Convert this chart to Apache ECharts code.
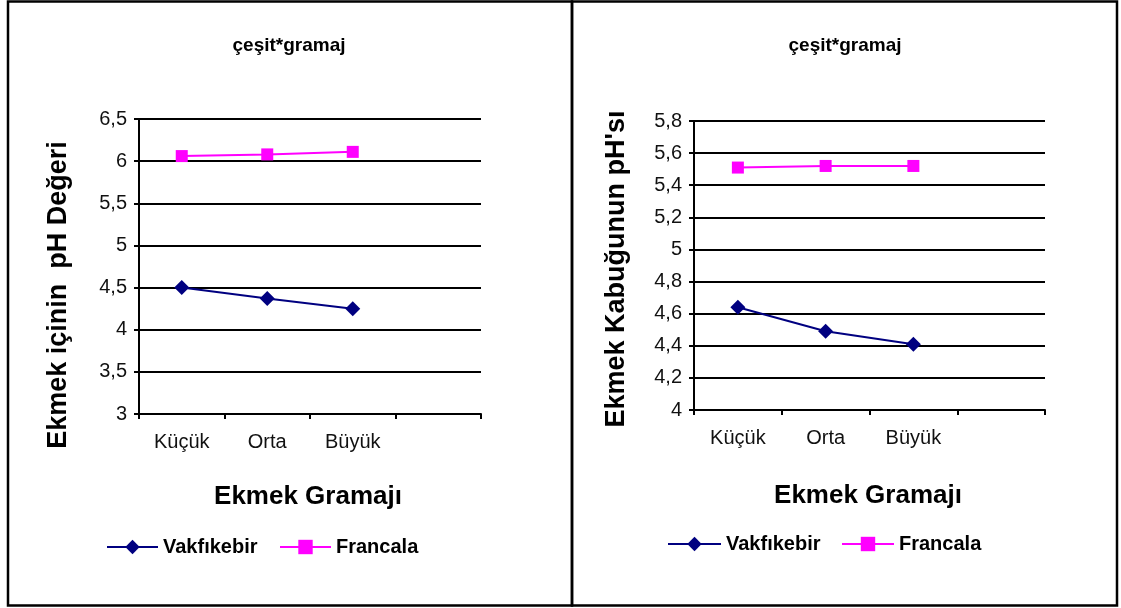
<!DOCTYPE html>
<html><head><meta charset="utf-8">
<script src="https://cdn.jsdelivr.net/npm/echarts@6/dist/echarts.min.js"></script>
<style>html,body{margin:0;padding:0;background:#fff}#c{width:1121px;height:608px}</style>
</head><body><div id="c"></div>
<script>
const categories = ['Küçük', 'Orta', 'Büyük', ''];
const seriesNames = ['Vakfıkebir', 'Francala'];
const innerVakfikebir = [4.5, 4.37, 4.25];
const innerFrancala = [6.06, 6.08, 6.11];
const crustVakfikebir = [4.64, 4.49, 4.41];
const crustFrancala = [5.51, 5.52, 5.52];
const chartTitle = 'çeşit*gramaj';
const xName = 'Ekmek Gramajı';
const yNameLeft = 'Ekmek içinin  pH Değeri';
const yNameRight = "Ekmek Kabuğunun pH'sı";

const FONT = '"Liberation Sans", Arial, sans-serif';
const fmt = v => String(+(+v).toFixed(1)).replace('.', ',');

function xAxis(gi) {
  return {
    type: 'category', gridIndex: gi, data: categories, boundaryGap: true,
    axisLine: { lineStyle: { color: '#000', width: 2 } },
    axisTick: { show: true, length: 5, lineStyle: { color: '#000', width: 2 } },
    axisLabel: { color: '#111', fontFamily: FONT, fontSize: 20, margin: 18 },
    splitLine: { show: false }
  };
}
function yAxis(gi, min, max, interval) {
  return {
    type: 'value', gridIndex: gi, min, max, interval,
    axisLine: { show: true, lineStyle: { color: '#000', width: 2 } },
    axisTick: { show: true, length: 5, lineStyle: { color: '#000', width: 2 } },
    axisLabel: { color: '#111', fontFamily: FONT, fontSize: 20, margin: 12, formatter: fmt },
    splitLine: { show: true, lineStyle: { color: '#000', width: 2 } }
  };
}
function line(name, data, gi, color, symbol, size) {
  return {
    name, type: 'line', data, xAxisIndex: gi, yAxisIndex: gi,
    symbol, symbolSize: size, showSymbol: true,
    lineStyle: { color, width: 2 }, itemStyle: { color },
    animation: false
  };
}
const txt = (x, y, text, size, rot) => ({
  type: 'text', x, y, rotation: rot || 0,
  style: { text, font: 'bold ' + size + 'px ' + FONT, fill: '#000', textAlign: 'center', textVerticalAlign: 'middle' }
});
const legendText = { fontFamily: FONT, fontWeight: 'bold', fontSize: 20, color: '#000' };
const leg = (left, top, w, name) => ({
  left, top, padding: 0, itemWidth: w, itemHeight: 18, data: [name], textStyle: legendText
});

const chart = echarts.init(document.getElementById('c'));
chart.setOption({
  animation: false,
  backgroundColor: '#fff',
  grid: [
    { left: 139, top: 119, width: 342, height: 295 },
    { left: 694, top: 121, width: 351, height: 289 }
  ],
  xAxis: [xAxis(0), xAxis(1)],
  yAxis: [yAxis(0, 3, 6.5, 0.5), yAxis(1, 4, 5.8, 0.2)],
  legend: [
    leg(106, 537, 51, seriesNames[0]),
    leg(279, 537, 51, seriesNames[1]),
    leg(667, 534, 53, seriesNames[0]),
    leg(841, 534, 52, seriesNames[1])
  ],
  series: [
    line(seriesNames[0], innerVakfikebir, 0, '#000080', 'diamond', 15),
    line(seriesNames[1], innerFrancala, 0, '#FF00FF', 'rect', 12),
    line(seriesNames[0], crustVakfikebir, 1, '#000080', 'diamond', 15),
    line(seriesNames[1], crustFrancala, 1, '#FF00FF', 'rect', 12)
  ],
  graphic: [
    { type: 'rect', shape: { x: 8, y: 1.5, width: 564, height: 604 }, style: { fill: 'none', stroke: '#000', lineWidth: 2.5 } },
    { type: 'rect', shape: { x: 572, y: 1.5, width: 545, height: 604 }, style: { fill: 'none', stroke: '#000', lineWidth: 2.5 } },
    txt(289, 46, chartTitle, 19),
    txt(845, 46, chartTitle, 19),
    txt(308, 497, xName, 26),
    txt(868, 496, xName, 26),
    txt(59, 295, yNameLeft, 27, Math.PI / 2),
    txt(617, 269, yNameRight, 27, Math.PI / 2)
  ]
});
</script></body></html>
